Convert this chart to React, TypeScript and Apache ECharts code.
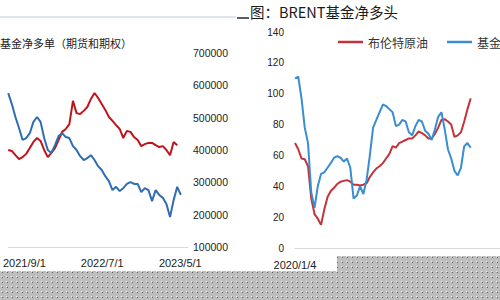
import React, { useEffect, useRef } from 'react';
import * as echarts from 'echarts';

// ---------- Left chart: 基金净多单（期货和期权） ----------
const LEFT_DATES = [
  '2021-06-30', '2021-07-14', '2021-07-28', '2021-08-11', '2021-08-25', '2021-09-08', '2021-09-22',
  '2021-10-06', '2021-10-20', '2021-11-03', '2021-11-17', '2021-12-01', '2021-12-15', '2021-12-29',
  '2022-01-12', '2022-01-26', '2022-02-09', '2022-02-23', '2022-03-09', '2022-03-23', '2022-04-06',
  '2022-04-20', '2022-05-04', '2022-05-18', '2022-06-01', '2022-06-15', '2022-06-29', '2022-07-13',
  '2022-07-27', '2022-08-10', '2022-08-24', '2022-09-07', '2022-09-21', '2022-10-05', '2022-10-19',
  '2022-11-02', '2022-11-16', '2022-11-30', '2022-12-14', '2022-12-28', '2023-01-11', '2023-01-25',
  '2023-02-08', '2023-02-22', '2023-03-08', '2023-03-22', '2023-04-05', '2023-04-19', '2023-05-03',
];
const LEFT_RED = [
  400000, 397000, 384000, 372000, 378000, 388000, 406000, 425000, 437000, 428000,
  400000, 378000, 391000, 406000, 431000, 456000, 465000, 480000, 552000, 514000,
  511000, 521000, 533000, 558000, 576000, 561000, 542000, 524000, 502000, 490000,
  477000, 465000, 437000, 459000, 456000, 440000, 431000, 412000, 418000, 422000,
  422000, 415000, 409000, 412000, 400000, 384000, 425000, 415000, null,
];
const LEFT_BLUE = [
  576000, 542000, 502000, 468000, 431000, 437000, 452000, 487000, 502000, 487000,
  437000, 400000, 391000, 415000, 443000, 452000, 440000, 437000, 412000, 400000,
  381000, 369000, 375000, 384000, 369000, 350000, 338000, 319000, 304000, 276000,
  286000, 273000, 282000, 295000, 301000, 295000, 295000, 270000, 282000, 276000,
  242000, 276000, 261000, 252000, 233000, 193000, 245000, 286000, 261000,
];
const LEFT_X_LABELS = ['2021-09-01', '2022-07-01', '2023-05-01'];
const LEFT_X_RANGE = ['2021-06-30', '2023-05-31'];

// ---------- Right chart: BRENT基金净多头 ----------
const RIGHT_DATES = [
  '2020-01-04', '2020-01-18', '2020-02-01', '2020-02-15', '2020-02-29', '2020-03-14', '2020-03-28',
  '2020-04-11', '2020-04-25', '2020-05-09', '2020-05-23', '2020-06-06', '2020-06-20', '2020-07-04',
  '2020-07-18', '2020-08-01', '2020-08-15', '2020-08-29', '2020-09-12', '2020-09-26', '2020-10-10',
  '2020-10-24', '2020-11-07', '2020-11-21', '2020-12-05', '2020-12-19', '2021-01-02', '2021-01-16',
  '2021-01-30', '2021-02-13', '2021-02-27', '2021-03-13', '2021-03-27', '2021-04-10', '2021-04-24',
  '2021-05-08', '2021-05-22', '2021-06-05', '2021-06-19', '2021-07-03', '2021-07-17', '2021-07-31',
  '2021-08-14', '2021-08-28', '2021-09-11', '2021-09-25', '2021-10-09', '2021-10-23', '2021-11-06',
  '2021-11-20', '2021-12-04', '2021-12-18', '2022-01-01', '2022-01-15', '2022-01-29',
];
const RIGHT_RED = [
  68, 64, 58, 57.5, 53, 32, 22, 19, 15, 25, 33, 37, 39, 41.5, 43, 43.5, 44, 43, 41, 41,
  40.5, 41, 42, 46, 49, 51.5, 53, 55, 58, 61, 66, 65, 68, 69, 70, 71, 71, 73, 75.5, 74.5,
  73, 71, 71, 74, 78, 83, 83.5, 82, 80, 72, 73, 75, 82, 90, 97,
];
const RIGHT_BLUE = [
  110, 111, 97, 78, 68, 36, 26, 40, 48, 49, 52, 55, 58.5, 59.5, 58.5, 56, 58, 52, 32, 34,
  40, 35, 44, 60, 78, 83, 88, 93, 92, 90, 88, 79, 80, 83, 82, 75, 73, 79, 83, 82,
  76, 74, 70, 77, 85, 88, 77, 64, 58, 50, 47, 52, 66, 68, 65,
];
const RIGHT_X_LABELS = ['2020-01-04'];
const RIGHT_X_RANGE = ['2020-01-04', '2022-06-04'];
const RIGHT_LEGEND = ['布伦特原油', '基金净多头'];

const ts = (s: string) => Date.parse(s + 'T00:00:00Z');
const fmtDate = (v: number) => {
  const d = new Date(v);
  return `${d.getUTCFullYear()}/${d.getUTCMonth() + 1}/${d.getUTCDate()}`;
};

const NUM_FONT = 'Liberation Sans, Arial, sans-serif';
const CJK_FONT = 'Noto Sans CJK SC, sans-serif';

function makeDotPattern(): any {
  try {
    const c = document.createElement('canvas');
    c.width = 5;
    c.height = 5;
    const ctx = c.getContext('2d');
    if (!ctx) return '#c2c2c2';
    ctx.fillStyle = '#bdbdbd';
    ctx.fillRect(0, 0, 5, 5);
    ctx.fillStyle = '#f2f2f2';
    ctx.fillRect(1, 1, 1, 1);
    ctx.fillStyle = '#5e5e5e';
    ctx.fillRect(2, 2, 1, 1);
    return { image: c.toDataURL(), repeat: 'repeat' };
  } catch (e) {
    return '#c2c2c2';
  }
}

export default function App() {
  const ref = useRef<HTMLDivElement>(null);
  useEffect(() => {
    const chart = echarts.init(ref.current!, null, { renderer: 'svg' });
    const dots = makeDotPattern();
    const xAxisCommon = {
      type: 'value',
      scale: true,
      axisLine: { lineStyle: { color: '#d9d9d9', width: 1 } },
      axisTick: { show: false },
      splitLine: { show: false },
    };
    const option: any = {
      animation: false,
      backgroundColor: '#ffffff',
      legend: {
        data: RIGHT_LEGEND,
        orient: 'horizontal',
        left: 333,
        top: 31,
        width: 400,
        icon: 'rect',
        itemWidth: 25,
        itemHeight: 2.5,
        itemGap: 19,
        textStyle: { fontSize: 12, color: '#333', fontFamily: CJK_FONT },
      },
      grid: [
        { left: 0, top: 53, width: 188, height: 194 },
        { left: 295, top: 32, width: 239.4, height: 216 },
      ],
      xAxis: [
        {
          ...xAxisCommon, gridIndex: 0, min: ts(LEFT_X_RANGE[0]), max: ts(LEFT_X_RANGE[1]),
          axisLabel: {
            customValues: LEFT_X_LABELS.map(ts), formatter: fmtDate, margin: 10,
            fontSize: 11, color: '#222', fontFamily: NUM_FONT,
          },
        },
        {
          ...xAxisCommon, gridIndex: 1, min: ts(RIGHT_X_RANGE[0]), max: ts(RIGHT_X_RANGE[1]),
          axisLabel: {
            customValues: RIGHT_X_LABELS.map(ts), formatter: fmtDate, margin: 11,
            fontSize: 11, color: '#222', fontFamily: NUM_FONT,
          },
        },
      ],
      yAxis: [
        {
          type: 'value', gridIndex: 0, position: 'right', min: 100000, max: 700000, interval: 100000,
          axisLine: { show: false }, axisTick: { show: false }, splitLine: { show: false },
          axisLabel: { margin: 5, fontSize: 10.5, color: '#222', fontFamily: NUM_FONT, formatter: (v: number) => String(v) },
        },
        {
          type: 'value', gridIndex: 1, min: 0, max: 140, interval: 20,
          axisLine: { show: false }, axisTick: { show: false }, splitLine: { show: false },
          axisLabel: { margin: 11, fontSize: 10, color: '#222', fontFamily: NUM_FONT, formatter: (v: number) => String(v) },
        },
      ],
      series: [
        {
          name: '价格', type: 'line', xAxisIndex: 0, yAxisIndex: 0, symbol: 'none',
          lineStyle: { color: '#c0141c', width: 2 }, itemStyle: { color: '#c0141c' },
          data: LEFT_DATES.map((d, i) => [ts(d), LEFT_RED[i]]),
        },
        {
          name: '基金净多单', type: 'line', xAxisIndex: 0, yAxisIndex: 0, symbol: 'none',
          lineStyle: { color: '#2f6db0', width: 2 }, itemStyle: { color: '#2f6db0' },
          data: LEFT_DATES.map((d, i) => [ts(d), LEFT_BLUE[i]]),
        },
        {
          name: RIGHT_LEGEND[0], type: 'line', xAxisIndex: 1, yAxisIndex: 1, symbol: 'none',
          lineStyle: { color: '#c4323a', width: 2 }, itemStyle: { color: '#c4323a' },
          data: RIGHT_DATES.map((d, i) => [ts(d), RIGHT_RED[i]]),
        },
        {
          name: RIGHT_LEGEND[1], type: 'line', xAxisIndex: 1, yAxisIndex: 1, symbol: 'none',
          lineStyle: { color: '#3a8dd0', width: 2 }, itemStyle: { color: '#3a8dd0' },
          data: RIGHT_DATES.map((d, i) => [ts(d), RIGHT_BLUE[i]]),
        },
      ],
      graphic: [
        { type: 'line', shape: { x1: 0, y1: 17, x2: 236, y2: 17 }, style: { stroke: '#d3dbe4', lineWidth: 1.5 } },
        { type: 'line', shape: { x1: 237, y1: 18, x2: 249, y2: 18 }, style: { stroke: '#56606c', lineWidth: 2 } },
        {
          type: 'text', x: 250, y: 11,
          style: { text: '图：BRENT基金净多头', fontSize: 14.5, fill: '#1a1a1a', fontFamily: CJK_FONT, verticalAlign: 'middle' },
        },
        {
          type: 'text', x: 0, y: 43,
          style: { text: '基金净多单（期货和期权）', fontSize: 11, fill: '#222', fontFamily: CJK_FONT, verticalAlign: 'middle' },
        },
        { type: 'rect', z: 100, shape: { x: 0, y: 271, width: 500, height: 29 }, style: { fill: dots } },
        { type: 'rect', z: 100, shape: { x: 337, y: 256, width: 163, height: 15 }, style: { fill: dots } },
      ],
    };
    chart.setOption(option);
    return () => chart.dispose();
  }, []);
  return <div ref={ref} style={{ position: 'absolute', left: 0, top: 0, width: 500, height: 300 }} />;
}
